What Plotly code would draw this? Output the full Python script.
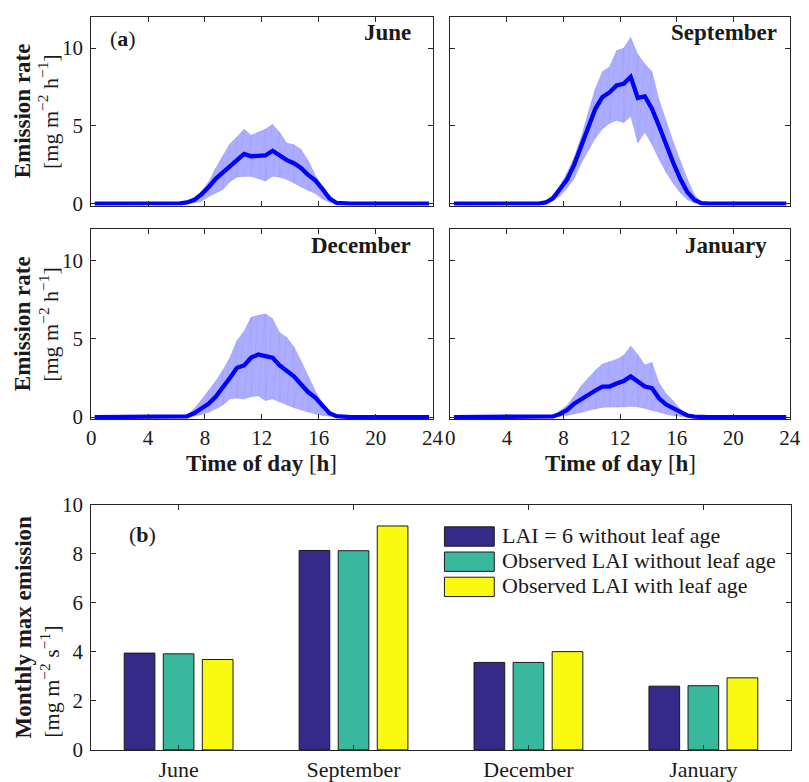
import plotly.graph_objects as go

W, H = 809, 782

# ---------------- data ----------------
HOURS = [0.25, 5.75, 6.25, 6.75, 7.25, 7.75, 8.25, 8.75, 9.25, 9.75, 10.25, 10.75, 11.25,
         11.75, 12.25, 12.75, 13.25, 13.75, 14.25, 14.75, 15.25, 15.75, 16.25, 16.75,
         17.25, 17.75, 18.25, 23.75]

june_mean = [0, 0, 0.02, 0.08, 0.25, 0.6, 1.05, 1.6, 2.0, 2.4, 2.85, 3.2, 3.05, 3.1, 3.1, 3.4,
             3.1, 2.8, 2.6, 2.3, 1.85, 1.5, 0.95, 0.35, 0.05, 0.01, 0, 0]
june_upper = [0, 0, 0.02, 0.15, 0.4, 0.8, 1.4, 2.3, 3.1, 3.85, 4.3, 4.8, 4.4, 4.6, 4.8, 5.1,
              4.6, 3.9, 3.8, 3.5, 2.8, 1.85, 1.15, 0.4, 0.06, 0.01, 0, 0]
june_lower = [0, 0, 0, 0.02, 0.05, 0.15, 0.45, 0.65, 0.9, 1.4, 1.7, 1.75, 1.75, 1.6, 1.45, 1.75,
              1.7, 1.55, 1.3, 1.05, 0.85, 0.65, 0.3, 0.08, 0.01, 0, 0, 0]

sep_mean = [0, 0, 0.01, 0.08, 0.35, 0.95, 1.55, 2.5, 3.7, 4.8, 6.1, 6.85, 7.15, 7.6, 7.7, 8.15,
            6.8, 6.9, 6.1, 5.0, 3.8, 2.65, 1.6, 0.75, 0.25, 0.03, 0, 0]
sep_upper = [0, 0, 0.02, 0.2, 0.55, 1.15, 2.0, 3.0, 4.3, 5.9, 7.4, 8.5, 8.8, 9.85, 10.0, 10.7,
             9.6, 9.0, 8.5, 6.7, 5.3, 4.0, 2.8, 1.6, 0.6, 0.1, 0, 0]
sep_lower = [0, 0, 0, 0.05, 0.2, 0.5, 1.0, 1.6, 2.6, 3.4, 4.2, 4.8, 5.15, 5.35, 5.2, 5.6,
             3.9, 4.6, 3.8, 2.85, 2.0, 1.3, 0.7, 0.25, 0.05, 0, 0, 0]

dec_mean = [0, 0, 0, 0.05, 0.25, 0.55, 0.85, 1.3, 1.85, 2.5, 3.15, 3.3, 3.8, 4.0, 3.9, 3.8,
            3.3, 2.95, 2.6, 2.1, 1.6, 1.25, 0.7, 0.25, 0.06, 0.01, 0, 0]
dec_upper = [0, 0, 0.01, 0.15, 0.55, 1.1, 1.7, 2.3, 3.0, 3.8, 4.9, 5.5, 6.4, 6.5, 6.6, 6.3,
             5.4, 5.1, 4.5, 3.6, 2.6, 1.7, 0.9, 0.3, 0.08, 0.01, 0, 0]
dec_lower = [0, 0, 0, 0.01, 0.05, 0.15, 0.3, 0.5, 0.75, 1.15, 1.2, 1.15, 1.3, 1.35, 1.05, 1.15,
             0.95, 0.8, 0.6, 0.45, 0.3, 0.2, 0.1, 0.03, 0, 0, 0, 0]

jan_mean = [0, 0, 0, 0.01, 0.04, 0.2, 0.45, 0.85, 1.15, 1.45, 1.7, 1.95, 1.95, 2.15, 2.3, 2.6,
            2.25, 1.95, 1.85, 1.2, 0.8, 0.55, 0.3, 0.1, 0.03, 0, 0, 0]
jan_upper = [0, 0, 0, 0.02, 0.08, 0.4, 0.75, 1.35, 2.0, 2.5, 3.0, 3.4, 3.55, 3.7, 3.95, 4.55,
             4.0, 3.35, 3.5, 2.2, 1.5, 1.05, 0.5, 0.15, 0.03, 0, 0, 0]
jan_lower = [0, 0, 0, 0, 0.01, 0.04, 0.1, 0.18, 0.3, 0.42, 0.52, 0.62, 0.63, 0.62, 0.65, 0.68,
             0.65, 0.55, 0.42, 0.3, 0.18, 0.08, 0.03, 0.01, 0, 0, 0, 0]

PANEL_NAMES = ["June", "September", "December", "January"]

BAR_MONTHS = ["June", "September", "December", "January"]
lai6_no_age = [3.95, 8.14, 3.57, 2.60]
obs_no_age = [3.92, 8.13, 3.57, 2.62]
obs_with_age = [3.69, 9.14, 4.01, 2.94]
BAR_NAMES = ["LAI = 6 without leaf age", "Observed LAI without leaf age",
             "Observed LAI with leaf age"]

X_TICKS = [0, 4, 8, 12, 16, 20, 24]
Y_TICKS = [0, 5, 10]
BAR_Y_TICKS = [0, 2, 4, 6, 8, 10]

# ---------------- style ----------------
FONT = "Liberation Serif"
INK = "#1a1a1a"
AX = "#262626"
BAR_COLORS = ["rgb(53,42,135)", "rgb(56,185,158)", "rgb(249,250,15)"]
BOLD_SIZE = 23
TEXT_SIZE = 22
TICK_SIZE = 21
CAT_TICK_SIZE = 22

# the captured page is slightly offset/compressed: map target pixels -> paper fractions
SX, OX = 0.9933, 1.7
SY, OY = 0.98, 8.0


def X(x):
    return ((x - OX) / SX) / W


def Y(y):
    return 1 - ((y - OY) / SY) / H


fig = go.Figure()

series = [(june_mean, june_lower, june_upper), (sep_mean, sep_lower, sep_upper),
          (dec_mean, dec_lower, dec_upper), (jan_mean, jan_lower, jan_upper)]

for k, (m, lo, up) in enumerate(series):
    xa = "x" if k == 0 else f"x{k+1}"
    ya = "y" if k == 0 else f"y{k+1}"
    fig.add_trace(go.Scatter(x=HOURS, y=lo, mode="lines", line=dict(width=0.6, color="rgba(40,40,255,0.2)"),
                             xaxis=xa, yaxis=ya, showlegend=False, hoverinfo="skip"))
    fig.add_trace(go.Scatter(x=HOURS, y=up, mode="lines", fill="tonexty",
                             fillcolor="rgba(0,0,255,0.32)",
                             line=dict(width=0.6, color="rgba(40,40,255,0.2)"),
                             xaxis=xa, yaxis=ya, showlegend=False, hoverinfo="skip"))
    # triangulation mesh edges of the band (faint)
    mx, my = [], []
    for i in range(len(HOURS) - 1):
        if up[i] - lo[i] > 0.05 or up[i + 1] - lo[i + 1] > 0.05:
            mx += [HOURS[i], HOURS[i + 1], None]
            my += [lo[i], up[i + 1], None]
            if i % 2 == 0:
                mx += [HOURS[i], HOURS[i], None]
                my += [lo[i], up[i], None]
    fig.add_trace(go.Scatter(x=mx, y=my, mode="lines", line=dict(width=0.5, color="rgba(40,40,255,0.13)"),
                             xaxis=xa, yaxis=ya, showlegend=False, hoverinfo="skip"))
    fig.add_trace(go.Scatter(x=HOURS, y=m, mode="lines", line=dict(width=4.3, color="#0000ff"),
                             xaxis=xa, yaxis=ya, showlegend=False))

for j, (vals, name) in enumerate(zip([lai6_no_age, obs_no_age, obs_with_age], BAR_NAMES)):
    fig.add_trace(go.Bar(x=BAR_MONTHS, y=vals, name=name, xaxis="x5", yaxis="y5",
                         marker=dict(color=BAR_COLORS[j], line=dict(color=INK, width=1)),
                         showlegend=False))

# ---------------- axes ----------------
xdom = [[X(89), X(435)], [X(453), X(797)]]
ydom = [[Y(204), Y(13)], [Y(420), Y(228)]]

common = dict(showgrid=False, zeroline=False, showline=True, linecolor=AX, linewidth=1,
              mirror="ticks", ticks="inside", ticklen=5, tickcolor=AX, tickwidth=1,
              tickfont=dict(family=FONT, size=TICK_SIZE, color=INK))

layout = dict(width=W, height=H, margin=dict(l=0, r=0, t=0, b=0),
              paper_bgcolor="white", plot_bgcolor="white",
              barmode="group", bargap=0.33, bargroupgap=0.215, showlegend=False)

for k in range(4):
    r, c = divmod(k, 2)
    xn = "xaxis" if k == 0 else f"xaxis{k+1}"
    yn = "yaxis" if k == 0 else f"yaxis{k+1}"
    layout[xn] = dict(common, domain=xdom[c], range=[0, 24], tickvals=X_TICKS,
                      showticklabels=(r == 1), ticklabelstandoff=0,
                      anchor="y" if k == 0 else f"y{k+1}")
    layout[yn] = dict(common, domain=ydom[r], range=[-0.12, 12], tickvals=Y_TICKS,
                      showticklabels=(c == 0), ticklabelstandoff=3,
                      anchor="x" if k == 0 else f"x{k+1}")

layout["xaxis5"] = dict(common, domain=[X(89), X(798)], type="category",
                        range=[-0.5, 3.5], ticklabelstandoff=0, anchor="y5",
                        tickfont=dict(family=FONT, size=CAT_TICK_SIZE, color=INK))
layout["yaxis5"] = dict(common, domain=[Y(755), Y(507)], range=[0, 10], tickvals=BAR_Y_TICKS,
                        ticklabelstandoff=3, anchor="x5")

fig.update_layout(**layout)

# ---------------- annotations ----------------
ann = []


def text(x, y, s, size=TEXT_SIZE, xanchor="center", yanchor="middle", angle=0):
    ann.append(dict(x=X(x), y=Y(y), xref="paper", yref="paper", text=s, showarrow=False,
                    xanchor=xanchor, yanchor=yanchor, textangle=angle,
                    font=dict(family=FONT, size=size, color=INK)))


text(106, 35, "(<b>a</b>)", xanchor="left")
title_pos = [(415, 29), (786, 29), (415, 244), (776, 244)]
for (x, y), name in zip(title_pos, PANEL_NAMES):
    text(x, y, f"<b>{name}</b>", size=BOLD_SIZE, xanchor="right")

for yc in (108.5, 324):
    text(19, yc, "<b>Emission rate</b>", size=BOLD_SIZE, angle=-90)
    text(46, yc, "[mg m<sup>−2</sup> h<sup>−1</sup>]", angle=-90)

for xc in (262, 625):
    text(xc, 465, "<b>Time of day</b> [<b>h</b>]", size=BOLD_SIZE)

text(20, 631, "<b>Monthly max emission</b>", size=BOLD_SIZE, angle=-90)
text(47, 745, "[mg m<sup>−2</sup> s<sup>−1</sup>]", angle=-90, yanchor="bottom")

text(125, 537, "(<b>b</b>)", xanchor="left")

# custom legend (large swatches as in the reference)
shapes = []
leg_rows = [539, 564.5, 590]
for j, (yc, name) in enumerate(zip(leg_rows, BAR_NAMES)):
    shapes.append(dict(type="rect", xref="paper", yref="paper",
                       x0=X(447), x1=X(497.5), y0=Y(yc + 9.8), y1=Y(yc - 9.8),
                       fillcolor=BAR_COLORS[j], line=dict(color=INK, width=1)))
    text(503, yc - 1, name, xanchor="left")

fig.update_layout(annotations=ann, shapes=shapes)

fig.write_html("out.html")
